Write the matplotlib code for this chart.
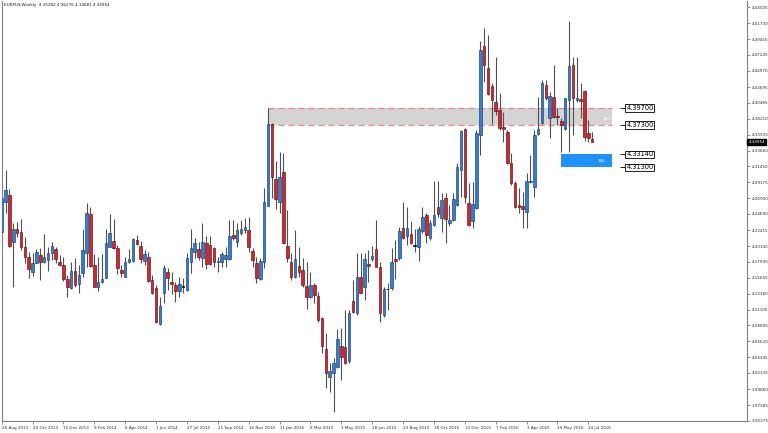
import matplotlib
matplotlib.use("Agg")
import matplotlib.pyplot as plt
from matplotlib.patches import Rectangle

# EURPLN weekly candles, 26 Aug 2013 .. 31 Jul 2016
opens = [4.2218, 4.2643, 4.2738, 4.2076, 4.2260, 4.2214, 4.2005, 4.1863, 4.1650, 4.1778,
         4.1887, 4.1792, 4.1816, 4.1920, 4.1968, 4.1788, 4.1745, 4.1551, 4.1414, 4.1664,
         4.1476, 4.1627, 4.1911, 4.2468, 4.1745, 4.1428, 4.1504, 4.1557, 4.2005, 4.2090,
         4.1982, 4.1674, 4.1579, 4.1792, 4.1806, 4.2100, 4.2015, 4.1806, 4.1863, 4.1532,
         4.1414, 4.0904, 4.1344, 4.1650, 4.1504, 4.1461, 4.1381, 4.1437, 4.1391, 4.1792,
         4.1934, 4.1968, 4.1840, 4.2062, 4.2029, 4.1982, 4.1783, 4.1792, 4.1826, 4.1826,
         4.2171, 4.2076, 4.2204, 4.2242, 4.2242, 4.1948, 4.1778, 4.1542, 4.1792, 4.2582,
         4.3745, 4.2961, 4.2643, 4.3069, 4.2015, 4.1792, 4.1570, 4.1731, 4.1674, 4.1447,
         4.1287, 4.1461, 4.1306, 4.0989, 4.0550, 4.0161, 4.0209, 4.0294, 4.0597, 4.0587,
         4.0388, 4.1239, 4.1060, 4.1570, 4.1437, 4.1759, 4.1826, 4.1968, 4.1721, 4.1036,
         4.1400, 4.1414, 4.1826, 4.1840, 4.2266, 4.2157, 4.2185, 4.2019, 4.2005, 4.2232,
         4.2454, 4.2124, 4.2313, 4.2563, 4.2408, 4.2691, 4.2346, 4.2384, 4.2596, 4.3093,
         4.3670, 4.2629, 4.2374, 4.2549, 4.3589, 4.4852, 4.4544, 4.4288, 4.4062, 4.3944,
         4.3703, 4.3627, 4.3188, 4.2904, 4.2596, 4.2582, 4.2493, 4.2927, 4.2856, 4.3599,
         4.3755, 4.4298, 4.3826, 4.4133, 4.3863, 4.3788, 4.3674, 4.4086, 4.4582, 4.4086,
         4.4100, 4.4213, 4.3613, 4.35282]
highs = [4.2951, 4.3093, 4.2823, 4.2346, 4.2360, 4.2398, 4.2143, 4.1934, 4.1911, 4.1968,
         4.1982, 4.2181, 4.2005, 4.2072, 4.2005, 4.1887, 4.1854, 4.1603, 4.1792, 4.1840,
         4.1745, 4.2252, 4.2620, 4.2563, 4.1901, 4.1854, 4.1901, 4.2252, 4.2468, 4.2393,
         4.2029, 4.1745, 4.1863, 4.1968, 4.2124, 4.2171, 4.2090, 4.1958, 4.1934, 4.1603,
         4.1461, 4.1296, 4.1745, 4.1698, 4.1650, 4.1508, 4.1570, 4.1557, 4.1920, 4.2252,
         4.2124, 4.2076, 4.2337, 4.2161, 4.2161, 4.2005, 4.1863, 4.1934, 4.2005, 4.2384,
         4.2384, 4.2337, 4.2384, 4.2408, 4.2431, 4.1982, 4.1863, 4.1840, 4.2833, 4.3970,
         4.3760, 4.3225, 4.3352, 4.3338, 4.2525, 4.1911, 4.2242, 4.2005, 4.1840, 4.1792,
         4.1650, 4.1494, 4.1367, 4.1012, 4.0776, 4.0351, 4.0422, 4.0833, 4.0847, 4.1107,
         4.1107, 4.1532, 4.1911, 4.1911, 4.1911, 4.1958, 4.2015, 4.2384, 4.1792, 4.1437,
         4.1485, 4.1982, 4.2100, 4.2280, 4.2643, 4.2563, 4.2374, 4.2252, 4.2299, 4.2563,
         4.2487, 4.2384, 4.2941, 4.2941, 4.2771, 4.2762, 4.2596, 4.2771, 4.3196, 4.3660,
         4.3684, 4.2904, 4.2927, 4.3660, 4.4927, 4.5107, 4.5008, 4.4322, 4.4700, 4.4181,
         4.3920, 4.3660, 4.3330, 4.2937, 4.2842, 4.2785, 4.3046, 4.3306, 4.3660, 4.4132,
         4.4369, 4.4369, 4.4195, 4.4582, 4.3968, 4.3826, 4.4118, 4.5206, 4.4700, 4.4700,
         4.4322, 4.4227, 4.3802, 4.36276]
lows = [4.2214, 4.2482, 4.2005, 4.1428, 4.2147, 4.1958, 4.1778, 4.1556, 4.1589, 4.1769,
        4.1532, 4.1769, 4.1664, 4.1816, 4.1769, 4.1731, 4.1522, 4.1296, 4.1400, 4.1437,
        4.1344, 4.1579, 4.1712, 4.1712, 4.1428, 4.1381, 4.1494, 4.1557, 4.1996, 4.1968,
        4.1618, 4.1579, 4.1570, 4.1769, 4.1792, 4.2029, 4.1769, 4.1745, 4.1508, 4.1334,
        4.0918, 4.0894, 4.1202, 4.1391, 4.1334, 4.1225, 4.1287, 4.1353, 4.1381, 4.1627,
        4.1840, 4.1816, 4.1721, 4.1684, 4.1745, 4.1721, 4.1650, 4.1721, 4.1721, 4.1816,
        4.2100, 4.2005, 4.2171, 4.2195, 4.1934, 4.1721, 4.1486, 4.1532, 4.1698, 4.2582,
        4.2700, 4.2535, 4.2487, 4.2040, 4.1792, 4.1532, 4.1557, 4.1579, 4.1437, 4.1117,
        4.1273, 4.1202, 4.0941, 4.0493, 3.9996, 3.9948, 3.9664, 4.0280, 4.0114, 4.0341,
        4.0351, 4.1060, 4.1036, 4.1344, 4.1249, 4.1508, 4.1806, 4.1712, 4.0941, 4.1012,
        4.1107, 4.1391, 4.1542, 4.1816, 4.2110, 4.2029, 4.2043, 4.1934, 4.1806, 4.2195,
        4.2053, 4.2100, 4.2299, 4.2431, 4.2218, 4.2062, 4.2299, 4.2374, 4.2582, 4.2714,
        4.2629, 4.2299, 4.2266, 4.2535, 4.3306, 4.4341, 4.4157, 4.3741, 4.3873, 4.3660,
        4.3494, 4.3173, 4.2880, 4.2558, 4.2478, 4.2274, 4.2266, 4.2904, 4.2714, 4.3589,
        4.3741, 4.4086, 4.3551, 4.3826, 4.3731, 4.3344, 4.3660, 4.3344, 4.3589, 4.4062,
        4.3835, 4.3504, 4.3494, 4.34881]
closes = [4.2691, 4.2809, 4.2015, 4.2256, 4.2195, 4.2005, 4.1854, 4.1684, 4.1778, 4.1934,
          4.1792, 4.1863, 4.1920, 4.2015, 4.1826, 4.1750, 4.1542, 4.1428, 4.1664, 4.1461,
          4.1603, 4.1958, 4.2478, 4.1731, 4.1437, 4.1504, 4.1542, 4.2053, 4.2195, 4.1982,
          4.1698, 4.1627, 4.1792, 4.1826, 4.2110, 4.2043, 4.1826, 4.1901, 4.1522, 4.1353,
          4.0932, 4.1164, 4.1698, 4.1565, 4.1480, 4.1381, 4.1476, 4.1437, 4.1840, 4.1982,
          4.2053, 4.1863, 4.2076, 4.1759, 4.1759, 4.1792, 4.1806, 4.1897, 4.1887, 4.2157,
          4.2124, 4.2242, 4.2252, 4.2289, 4.2005, 4.1816, 4.1557, 4.1806, 4.2643, 4.3745,
          4.2989, 4.2677, 4.2998, 4.2053, 4.1840, 4.1579, 4.1826, 4.1650, 4.1461, 4.1287,
          4.1461, 4.1320, 4.0965, 4.0597, 4.0218, 4.0246, 4.0351, 4.0691, 4.0436, 4.0351,
          4.1060, 4.1083, 4.1579, 4.1353, 4.1826, 4.1731, 4.1873, 4.1721, 4.1069, 4.1400,
          4.1400, 4.1792, 4.1806, 4.2228, 4.2124, 4.2266, 4.2053, 4.2019, 4.2252, 4.2431,
          4.2171, 4.2346, 4.2454, 4.2468, 4.2667, 4.2393, 4.2384, 4.2677, 4.3140, 4.3650,
          4.2714, 4.2313, 4.2610, 4.3613, 4.4795, 4.4582, 4.4166, 4.4081, 4.3930, 4.3684,
          4.3674, 4.3188, 4.2904, 4.2572, 4.2568, 4.2535, 4.2937, 4.2937, 4.3589, 4.3674,
          4.4322, 4.4110, 4.4147, 4.3849, 4.3845, 4.3731, 4.4110, 4.4568, 4.4110, 4.4110,
          4.4071, 4.3565, 4.3551, 4.34954]

date_labels = ["26 Aug 2013", "20 Oct 2013", "15 Dec 2013", "9 Feb 2014", "6 Apr 2014",
               "1 Jun 2014", "27 Jul 2014", "21 Sep 2014", "16 Nov 2014", "11 Jan 2015",
               "8 Mar 2015", "3 May 2015", "28 Jun 2015", "23 Aug 2015", "18 Oct 2015",
               "13 Dec 2015", "7 Feb 2016", "3 Apr 2016", "29 May 2016", "24 Jul 2016"]
price_ticks = [4.54005, 4.51730, 4.49455, 4.47245, 4.44970, 4.42695, 4.40485, 4.38210,
               4.35935, 4.33660, 4.31450, 4.29175, 4.26900, 4.24690, 4.22415, 4.20140,
               4.17930, 4.15655, 4.13380, 4.11105, 4.08895, 4.06620, 4.04345, 4.02135,
               3.99860, 3.97585, 3.95375]

zone_top, zone_bottom = 4.39700, 4.37300
demand_top, demand_bottom = 4.33140, 4.31300
last_price = 4.34954

BLUE, BLUE_EDGE = "#2f7fd6", "#1c3f6e"
RED, RED_EDGE = "#d6252d", "#5c1212"

fig = plt.figure(figsize=(7.68, 4.33), dpi=100)
ax = fig.add_axes([1.5 / 768, 12 / 433, 745.5 / 768, 420 / 433])

n = len(opens)
xs = list(range(n))
body_colors, edge_colors, bottoms, heights = [], [], [], []
for o, c in zip(opens, closes):
    if c > o:
        body_colors.append(BLUE); edge_colors.append(BLUE_EDGE)
    elif c < o:
        body_colors.append(RED); edge_colors.append(RED_EDGE)
    else:
        body_colors.append("black"); edge_colors.append("black")
    bottoms.append(min(o, c))
    heights.append(max(abs(c - o), 0.0004))

ax.vlines(xs, lows, highs, color="#505050", lw=0.8, zorder=2)
ax.bar(xs, heights, bottom=bottoms, width=0.66, color=body_colors,
       edgecolor=edge_colors, linewidth=0.45, zorder=3)

# supply zone (grey) and demand zone (blue)
ax.add_patch(Rectangle((69, zone_bottom), 158 - 69, zone_top - zone_bottom,
                       facecolor="#d4d4d4", edgecolor="none", zorder=0))
ax.hlines([zone_top, zone_bottom], 69, 158, colors="#e58a94", lw=0.9,
          linestyles=(0, (5, 3)), zorder=1)
ax.add_patch(Rectangle((145, demand_bottom), 158 - 145, demand_top - demand_bottom,
                       facecolor="#1e90ff", edgecolor="none", zorder=1))
ax.text(157.6, 4.3815, "240", color="white", fontsize=3, ha="right", va="center", zorder=4)
ax.text(155.3, 4.3223, "184", color="white", fontsize=3, ha="center", va="center", zorder=4)

for lvl, txt in [(zone_top, "4.39700"), (zone_bottom, "4.37300"),
                 (demand_top, "4.33140"), (demand_bottom, "4.31300")]:
    ax.hlines(lvl, 160.2, 161.6, colors="black", lw=0.6)
    ax.text(161.8, lvl, txt, fontsize=4.8, ha="left", va="center", color="black",
            bbox=dict(boxstyle="square,pad=0.12", fc="white", ec="black", lw=0.6))

ax.set_xlim(-0.05, 193.1)
ax.set_ylim(3.95325, 4.54898)

ax.set_xticks(range(0, 153, 8))
ax.set_xticklabels(date_labels, fontsize=3, ha="left", color="#303030")
ax.yaxis.tick_right()
ax.set_yticks(price_ticks)
ax.set_yticklabels([f"{v:.5f}" for v in price_ticks], fontsize=3, color="#303030")
ax.tick_params(axis="both", length=2, width=0.5, color="#606060", pad=1.5)

for side in ["left", "right", "bottom"]:
    ax.spines[side].set_color("#808080")
    ax.spines[side].set_linewidth(0.8)
ax.spines["top"].set_visible(False)

ax.text(1.002, last_price, f"{last_price:.5f}", transform=ax.get_yaxis_transform(),
        fontsize=3, color="white", ha="left", va="center",
        bbox=dict(boxstyle="square,pad=0.25", fc="black", ec="black"))

fig.text(4 / 768, 1 - 5 / 433, "EURPLN,Weekly  4.35282 4.36276 4.34881 4.34954",
         fontsize=3, va="center", ha="left", color="#202020")

fig.savefig("out.png", dpi=100)
